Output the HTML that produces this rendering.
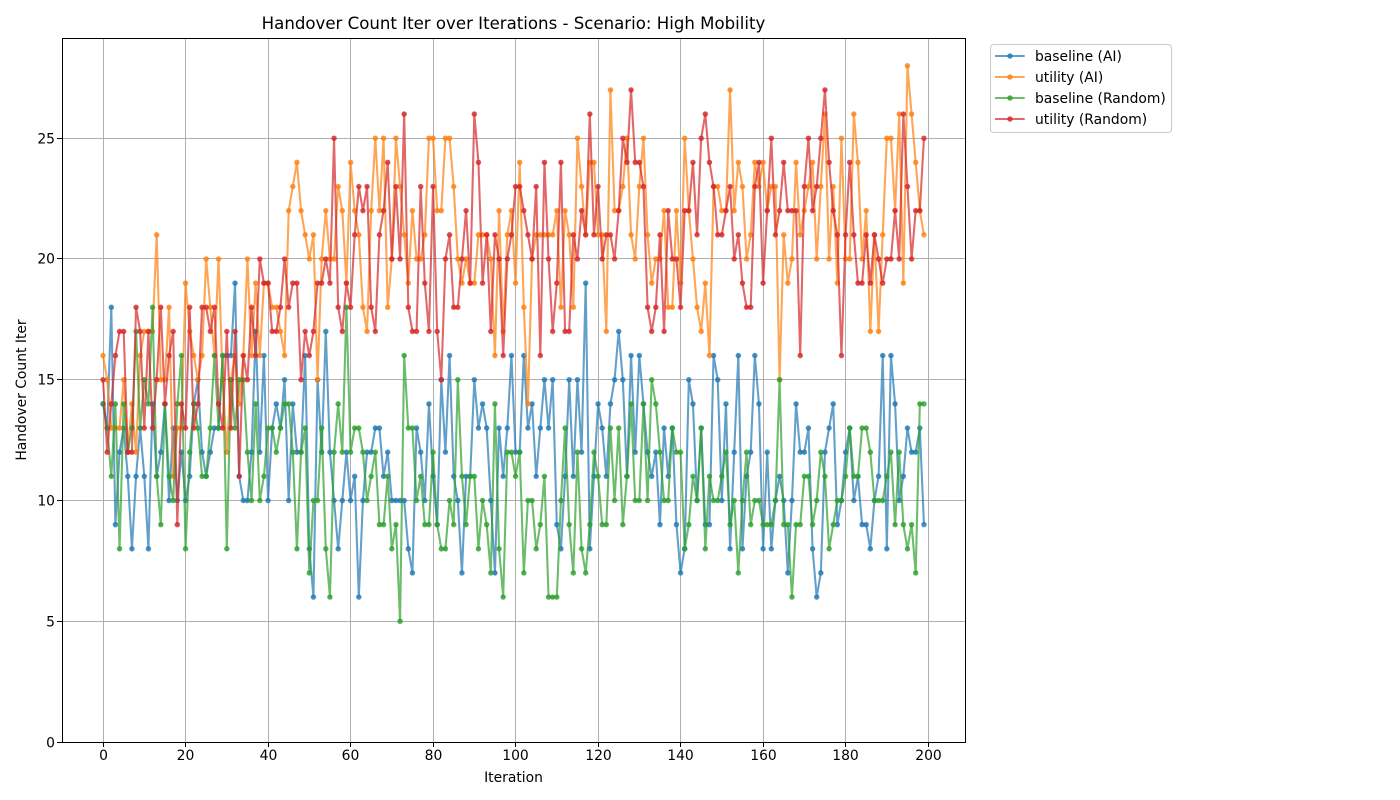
<!DOCTYPE html>
<html lang="en">
<head>
<meta charset="utf-8">
<title>Handover Count Iter over Iterations - Scenario: High Mobility</title>
<style>
html,body{margin:0;padding:0;background:#fff;width:1400px;height:800px;overflow:hidden}
svg{display:block}
text{font-family:"DejaVu Sans","Liberation Sans",sans-serif;fill:#000}
</style>
</head>
<body>
<svg id="chart" xmlns="http://www.w3.org/2000/svg" width="1400" height="800" viewBox="0 0 1400 800">
  <rect x="0" y="0" width="1400" height="800" fill="#fff"/>
  <rect x="62" y="38" width="903" height="704" fill="#fff"/>
  <g id="grid"></g>
  <g id="series"></g>
  <g id="axes"></g>
  <text x="513.5" y="29" text-anchor="middle" font-size="16.6">Handover Count Iter over Iterations - Scenario: High Mobility</text>
  <text x="513.5" y="782" text-anchor="middle" font-size="13.89">Iteration</text>
  <text transform="translate(26 390) rotate(-90)" text-anchor="middle" font-size="13.89">Handover Count Iter</text>
  <g id="legend">
    <rect x="990.5" y="44.5" width="181" height="88" rx="3" ry="3" fill="#fff" fill-opacity="0.8" stroke="#ccc" stroke-width="1.11"/>
  </g>
</svg>
<script>
const xTicks = [0, 20, 40, 60, 80, 100, 120, 140, 160, 180, 200];
const yTicks = [0, 5, 10, 15, 20, 25];
const seriesNames = ["baseline (AI)", "utility (AI)", "baseline (Random)", "utility (Random)"];
const seriesColors = ["#1f77b4", "#ff7f0e", "#2ca02c", "#d62728"];
const baselineAI = [
14,13,18,9,12,13,11,8,11,13,
11,8,14,11,12,14,10,13,10,12,
10,11,14,15,12,11,12,13,13,16,
16,16,19,11,10,10,12,17,12,16,
10,13,14,13,15,10,14,12,12,16,
8,6,15,12,17,12,10,8,10,12,
10,11,6,10,12,12,13,13,11,12,
10,10,10,10,8,7,13,12,10,14,
11,9,15,12,16,11,10,7,11,11,
15,13,14,13,10,7,13,11,13,16,
12,12,16,13,14,11,13,15,13,15,
9,8,11,15,11,15,12,19,8,11,
14,13,11,14,15,17,15,11,16,12,
16,14,12,11,12,9,13,11,13,9,
7,8,15,14,10,13,9,9,16,15,
10,14,8,12,16,8,11,12,16,14,
8,12,8,10,11,10,7,10,14,12,
12,13,8,6,7,12,13,14,9,10,
12,13,10,11,9,9,8,10,11,16,
8,16,14,10,11,13,12,12,13,9];
const utilityAI = [
16,15,13,13,13,15,12,14,12,16,
17,17,17,21,15,15,18,11,13,13,
19,17,16,15,16,20,18,16,20,15,
12,15,16,14,16,20,16,19,16,19,
19,18,18,17,16,22,23,24,22,21,
20,21,15,20,22,20,20,23,22,19,
24,22,21,18,17,22,25,22,25,18,
20,25,23,21,19,22,20,20,21,25,
25,22,22,25,25,23,20,19,20,19,
19,21,21,21,20,16,22,17,21,22,
19,24,18,14,20,21,21,21,21,21,
22,18,22,21,18,25,23,21,24,24,
21,21,17,27,22,22,23,25,21,20,
23,25,21,19,20,20,22,18,18,22,
19,25,22,20,18,17,19,16,23,23,
22,22,27,22,24,23,20,21,24,23,
24,22,23,23,15,21,19,20,24,21,
22,23,24,20,23,26,20,23,19,25,
20,20,26,24,20,22,17,21,17,21,
25,25,22,26,19,28,26,24,22,21];
const baselineRandom = [
14,13,11,14,8,14,12,13,17,13,
15,14,18,11,9,14,11,10,14,16,
8,12,14,13,11,11,13,16,13,16,
8,15,13,15,15,12,10,14,10,11,
13,13,12,13,14,14,12,8,12,13,
7,10,10,13,8,6,12,14,12,18,
12,13,13,12,10,11,12,9,9,11,
8,9,5,16,13,13,10,11,9,9,
12,9,8,8,10,9,15,11,9,11,
11,8,10,9,7,14,8,6,12,12,
11,12,7,10,10,8,9,11,6,6,
6,10,13,9,7,12,8,7,9,12,
11,9,9,13,10,13,9,11,14,10,
10,14,10,15,14,12,10,10,13,12,
12,8,9,11,10,13,8,11,10,10,
11,12,9,10,7,10,12,9,10,10,
9,9,9,10,15,9,9,6,9,9,
11,11,9,10,12,11,8,9,10,10,
11,13,11,11,13,13,12,10,10,10,
11,12,9,12,9,8,9,7,14,14];
const utilityRandom = [
15,12,14,16,17,17,12,12,18,17,
13,17,13,15,18,14,16,17,9,14,
13,18,13,14,18,18,17,18,14,13,
17,13,17,11,16,15,18,16,20,19,
19,17,17,18,20,18,19,19,15,17,
16,17,19,19,20,19,25,18,17,19,
18,21,23,22,23,18,17,21,22,24,
20,23,20,26,18,17,17,23,19,17,
23,17,15,20,21,18,18,20,22,19,
26,24,19,21,17,21,20,16,20,21,
23,23,22,21,20,23,16,24,20,17,
19,24,17,17,21,20,22,21,26,21,
23,20,21,21,20,22,25,24,27,24,
24,23,18,17,18,21,17,22,20,20,
18,22,22,24,21,25,26,24,23,21,
21,22,23,20,21,19,18,18,23,24,
19,22,25,21,22,24,22,22,22,16,
23,25,22,23,25,27,24,22,21,16,
21,24,21,19,19,21,19,21,20,19,
20,20,22,20,26,23,20,22,22,25];
const allSeries = [baselineAI, utilityAI, baselineRandom, utilityRandom];

const NS = "http://www.w3.org/2000/svg";
const plot = { left: 62, right: 965, top: 38, bottom: 742 };
const xMin = -9.95, xMax = 208.95, yMin = 0, yMax = 29.15;
const ALPHA = 0.7;

function xScale(v) { return plot.left + (v - xMin) / (xMax - xMin) * (plot.right - plot.left); }
function yScale(v) { return plot.bottom - (v - yMin) / (yMax - yMin) * (plot.bottom - plot.top); }
function snap(p) { return Math.floor(p) + 0.5; }
function make(tag, attrs) {
  const el = document.createElementNS(NS, tag);
  for (const k in attrs) el.setAttribute(k, attrs[k]);
  return el;
}

const gridG = document.getElementById("grid");
const axesG = document.getElementById("axes");
const seriesG = document.getElementById("series");
const legendG = document.getElementById("legend");

xTicks.forEach(function (t) {
  const px = snap(xScale(t));
  const g = make("line", { x1: px, x2: px, y1: plot.top, y2: plot.bottom, stroke: "#b0b0b0", "stroke-width": 1 });
  
  
  gridG.appendChild(g);
  const tick = make("line", { x1: px, x2: px, y1: plot.bottom, y2: plot.bottom + 5, stroke: "#000", "stroke-width": 1 });
  
  
  axesG.appendChild(tick);
  const label = make("text", { x: px, y: 760, "text-anchor": "middle", "font-size": 13.89 });
  label.textContent = String(t);
  
  
  axesG.appendChild(label);
});

yTicks.forEach(function (t) {
  const py = snap(yScale(t));
  const g = make("line", { x1: plot.left, x2: plot.right, y1: py, y2: py, stroke: "#b0b0b0", "stroke-width": 1 });
  
  
  gridG.appendChild(g);
  const tick = make("line", { x1: plot.left - 5, x2: plot.left, y1: py, y2: py, stroke: "#000", "stroke-width": 1 });
  
  
  axesG.appendChild(tick);
  const label = make("text", { x: 55, y: py + 5, "text-anchor": "end", "font-size": 13.89 });
  label.textContent = String(t);
  
  
  axesG.appendChild(label);
});

allSeries.forEach(function (values, s) {
  const group = make("g", {});
  
  
  const d = values.map(function (v, i) {
    return (i ? "L" : "M") + xScale(i).toFixed(2) + " " + yScale(v).toFixed(2);
  }).join("");
  const path = make("path", { d: d, fill: "none", stroke: seriesColors[s], "stroke-width": 2.08, "stroke-opacity": ALPHA, "stroke-linejoin": "round" });
  
  
  group.appendChild(path);
  values.forEach(function (v, i) {
    const c = make("circle", { cx: xScale(i).toFixed(2), cy: yScale(v).toFixed(2), r: 2.08, fill: seriesColors[s], "fill-opacity": ALPHA, stroke: seriesColors[s], "stroke-opacity": ALPHA, "stroke-width": 1.39 });
    
    
    group.appendChild(c);
  });
  seriesG.appendChild(group);
});

const frame = make("rect", { x: plot.left + 0.5, y: plot.top + 0.5, width: plot.right - plot.left, height: plot.bottom - plot.top, fill: "none", stroke: "#000", "stroke-width": 1 });


axesG.appendChild(frame);

seriesNames.forEach(function (name, s) {
  const rowY = 56 + s * 21;
  const ln = make("line", { x1: 995, x2: 1024.7, y1: rowY, y2: rowY, stroke: seriesColors[s], "stroke-width": 2.08, "stroke-opacity": ALPHA });
  
  
  legendG.appendChild(ln);
  const mk = make("circle", { cx: 1010, cy: rowY, r: 2.08, fill: seriesColors[s], "fill-opacity": ALPHA, stroke: seriesColors[s], "stroke-opacity": ALPHA, "stroke-width": 1.39 });
  
  
  legendG.appendChild(mk);
  const tx = make("text", { x: 1035, y: rowY + 5, "font-size": 13.89 });
  tx.textContent = name;
  
  
  legendG.appendChild(tx);
});
</script>
</body>
</html>
